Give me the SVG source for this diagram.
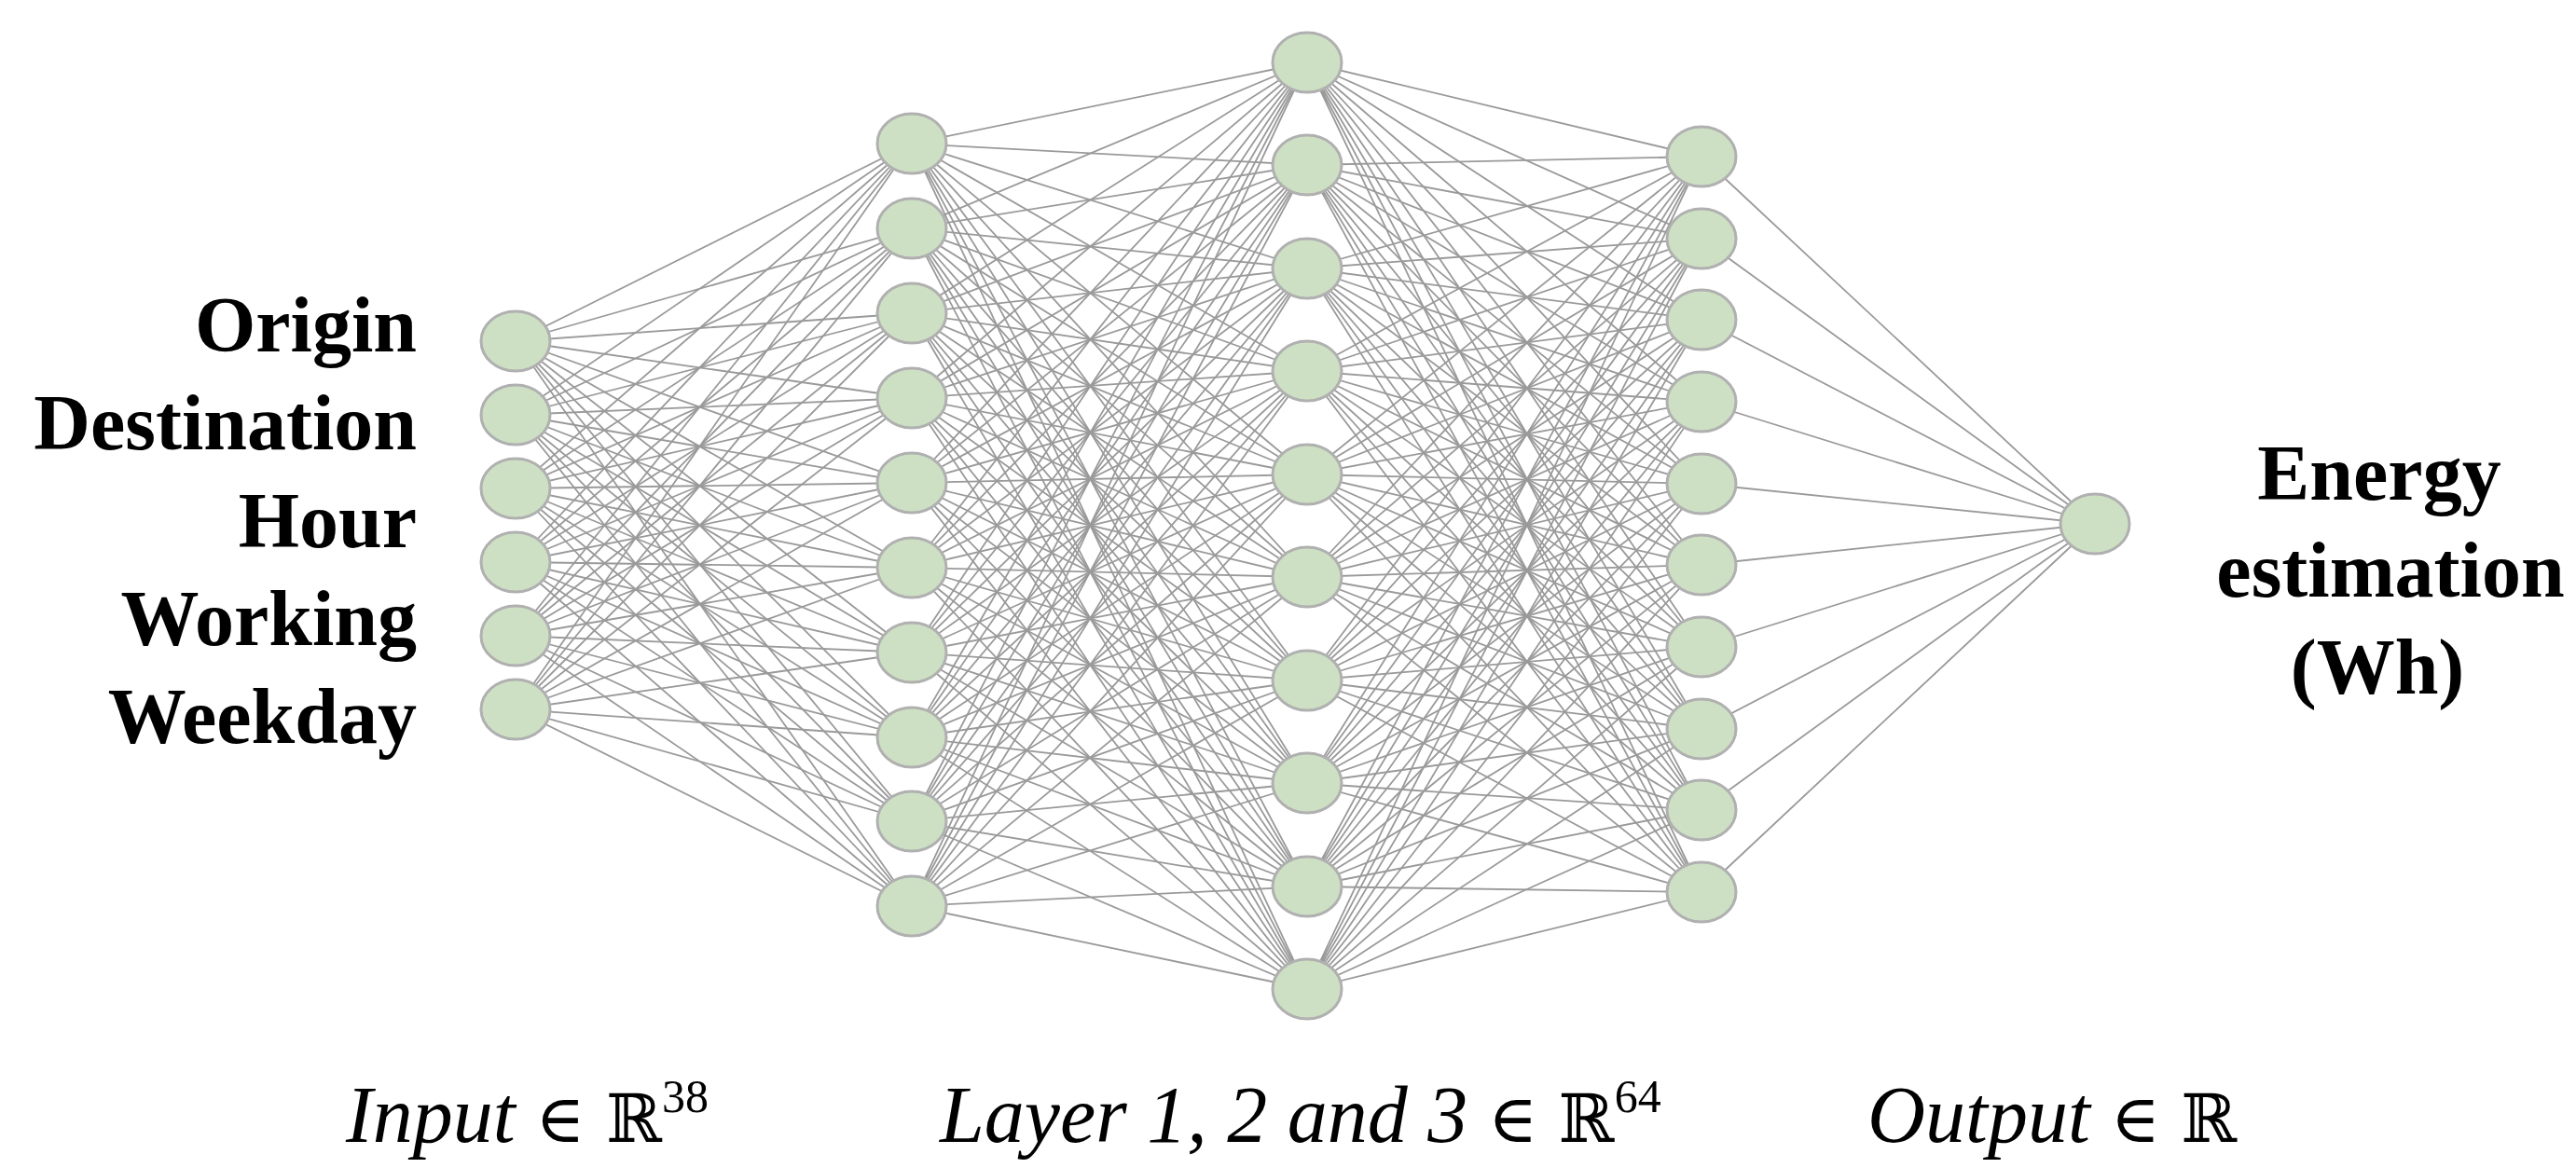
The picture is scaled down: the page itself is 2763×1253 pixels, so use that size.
<svg xmlns="http://www.w3.org/2000/svg" width="2763" height="1253" viewBox="0 0 2763 1253">
<style>
.e{stroke:#9a9a9a;stroke-width:1.8;fill:none}
.n{fill:#cde0c4;stroke:#b0b0b0;stroke-width:3}
.lbl{font-family:"Liberation Serif",serif;font-weight:bold;font-size:84px;fill:#000}
.ax{font-family:"Liberation Serif",serif;font-style:italic;font-size:86px;fill:#000}
.m{font-family:"DejaVu Serif","Liberation Serif",serif;font-style:normal;font-size:72px}
.sup{font-family:"Liberation Serif",serif;font-style:normal;font-size:50px}
</style>
<rect width="2763" height="1253" fill="#fff"/>
<g id="connectors" class="e">
<path d="M553 366L978 154M553 366L978 245M553 366L978 336M553 366L978 427M553 366L978 518M553 366L978 609M553 366L978 700M553 366L978 791M553 366L978 881M553 366L978 972"/>
<path d="M553 445L978 154M553 445L978 245M553 445L978 336M553 445L978 427M553 445L978 518M553 445L978 609M553 445L978 700M553 445L978 791M553 445L978 881M553 445L978 972"/>
<path d="M553 524L978 154M553 524L978 245M553 524L978 336M553 524L978 427M553 524L978 518M553 524L978 609M553 524L978 700M553 524L978 791M553 524L978 881M553 524L978 972"/>
<path d="M553 603L978 154M553 603L978 245M553 603L978 336M553 603L978 427M553 603L978 518M553 603L978 609M553 603L978 700M553 603L978 791M553 603L978 881M553 603L978 972"/>
<path d="M553 682L978 154M553 682L978 245M553 682L978 336M553 682L978 427M553 682L978 518M553 682L978 609M553 682L978 700M553 682L978 791M553 682L978 881M553 682L978 972"/>
<path d="M553 761L978 154M553 761L978 245M553 761L978 336M553 761L978 427M553 761L978 518M553 761L978 609M553 761L978 700M553 761L978 791M553 761L978 881M553 761L978 972"/>
<path d="M978 154L1402 67M978 154L1402 177M978 154L1402 288M978 154L1402 398M978 154L1402 509M978 154L1402 619M978 154L1402 730M978 154L1402 840M978 154L1402 951M978 154L1402 1061"/>
<path d="M978 245L1402 67M978 245L1402 177M978 245L1402 288M978 245L1402 398M978 245L1402 509M978 245L1402 619M978 245L1402 730M978 245L1402 840M978 245L1402 951M978 245L1402 1061"/>
<path d="M978 336L1402 67M978 336L1402 177M978 336L1402 288M978 336L1402 398M978 336L1402 509M978 336L1402 619M978 336L1402 730M978 336L1402 840M978 336L1402 951M978 336L1402 1061"/>
<path d="M978 427L1402 67M978 427L1402 177M978 427L1402 288M978 427L1402 398M978 427L1402 509M978 427L1402 619M978 427L1402 730M978 427L1402 840M978 427L1402 951M978 427L1402 1061"/>
<path d="M978 518L1402 67M978 518L1402 177M978 518L1402 288M978 518L1402 398M978 518L1402 509M978 518L1402 619M978 518L1402 730M978 518L1402 840M978 518L1402 951M978 518L1402 1061"/>
<path d="M978 609L1402 67M978 609L1402 177M978 609L1402 288M978 609L1402 398M978 609L1402 509M978 609L1402 619M978 609L1402 730M978 609L1402 840M978 609L1402 951M978 609L1402 1061"/>
<path d="M978 700L1402 67M978 700L1402 177M978 700L1402 288M978 700L1402 398M978 700L1402 509M978 700L1402 619M978 700L1402 730M978 700L1402 840M978 700L1402 951M978 700L1402 1061"/>
<path d="M978 791L1402 67M978 791L1402 177M978 791L1402 288M978 791L1402 398M978 791L1402 509M978 791L1402 619M978 791L1402 730M978 791L1402 840M978 791L1402 951M978 791L1402 1061"/>
<path d="M978 881L1402 67M978 881L1402 177M978 881L1402 288M978 881L1402 398M978 881L1402 509M978 881L1402 619M978 881L1402 730M978 881L1402 840M978 881L1402 951M978 881L1402 1061"/>
<path d="M978 972L1402 67M978 972L1402 177M978 972L1402 288M978 972L1402 398M978 972L1402 509M978 972L1402 619M978 972L1402 730M978 972L1402 840M978 972L1402 951M978 972L1402 1061"/>
<path d="M1402 67L1825 168M1402 67L1825 256M1402 67L1825 343M1402 67L1825 431M1402 67L1825 519M1402 67L1825 606M1402 67L1825 694M1402 67L1825 782M1402 67L1825 869M1402 67L1825 957"/>
<path d="M1402 177L1825 168M1402 177L1825 256M1402 177L1825 343M1402 177L1825 431M1402 177L1825 519M1402 177L1825 606M1402 177L1825 694M1402 177L1825 782M1402 177L1825 869M1402 177L1825 957"/>
<path d="M1402 288L1825 168M1402 288L1825 256M1402 288L1825 343M1402 288L1825 431M1402 288L1825 519M1402 288L1825 606M1402 288L1825 694M1402 288L1825 782M1402 288L1825 869M1402 288L1825 957"/>
<path d="M1402 398L1825 168M1402 398L1825 256M1402 398L1825 343M1402 398L1825 431M1402 398L1825 519M1402 398L1825 606M1402 398L1825 694M1402 398L1825 782M1402 398L1825 869M1402 398L1825 957"/>
<path d="M1402 509L1825 168M1402 509L1825 256M1402 509L1825 343M1402 509L1825 431M1402 509L1825 519M1402 509L1825 606M1402 509L1825 694M1402 509L1825 782M1402 509L1825 869M1402 509L1825 957"/>
<path d="M1402 619L1825 168M1402 619L1825 256M1402 619L1825 343M1402 619L1825 431M1402 619L1825 519M1402 619L1825 606M1402 619L1825 694M1402 619L1825 782M1402 619L1825 869M1402 619L1825 957"/>
<path d="M1402 730L1825 168M1402 730L1825 256M1402 730L1825 343M1402 730L1825 431M1402 730L1825 519M1402 730L1825 606M1402 730L1825 694M1402 730L1825 782M1402 730L1825 869M1402 730L1825 957"/>
<path d="M1402 840L1825 168M1402 840L1825 256M1402 840L1825 343M1402 840L1825 431M1402 840L1825 519M1402 840L1825 606M1402 840L1825 694M1402 840L1825 782M1402 840L1825 869M1402 840L1825 957"/>
<path d="M1402 951L1825 168M1402 951L1825 256M1402 951L1825 343M1402 951L1825 431M1402 951L1825 519M1402 951L1825 606M1402 951L1825 694M1402 951L1825 782M1402 951L1825 869M1402 951L1825 957"/>
<path d="M1402 1061L1825 168M1402 1061L1825 256M1402 1061L1825 343M1402 1061L1825 431M1402 1061L1825 519M1402 1061L1825 606M1402 1061L1825 694M1402 1061L1825 782M1402 1061L1825 869M1402 1061L1825 957"/>
<path d="M1825 168L2247 562M1825 256L2247 562M1825 343L2247 562M1825 431L2247 562M1825 519L2247 562M1825 606L2247 562M1825 694L2247 562M1825 782L2247 562M1825 869L2247 562M1825 957L2247 562"/>
</g>
<g id="input-layer">
<ellipse class="n" cx="553" cy="366" rx="37" ry="32"/><ellipse class="n" cx="553" cy="445" rx="37" ry="32"/><ellipse class="n" cx="553" cy="524" rx="37" ry="32"/><ellipse class="n" cx="553" cy="603" rx="37" ry="32"/><ellipse class="n" cx="553" cy="682" rx="37" ry="32"/><ellipse class="n" cx="553" cy="761" rx="37" ry="32"/>
</g>
<g id="layer1">
<ellipse class="n" cx="978" cy="154" rx="37" ry="32"/><ellipse class="n" cx="978" cy="245" rx="37" ry="32"/><ellipse class="n" cx="978" cy="336" rx="37" ry="32"/><ellipse class="n" cx="978" cy="427" rx="37" ry="32"/><ellipse class="n" cx="978" cy="518" rx="37" ry="32"/><ellipse class="n" cx="978" cy="609" rx="37" ry="32"/><ellipse class="n" cx="978" cy="700" rx="37" ry="32"/><ellipse class="n" cx="978" cy="791" rx="37" ry="32"/><ellipse class="n" cx="978" cy="881" rx="37" ry="32"/><ellipse class="n" cx="978" cy="972" rx="37" ry="32"/>
</g>
<g id="layer2">
<ellipse class="n" cx="1402" cy="67" rx="37" ry="32"/><ellipse class="n" cx="1402" cy="177" rx="37" ry="32"/><ellipse class="n" cx="1402" cy="288" rx="37" ry="32"/><ellipse class="n" cx="1402" cy="398" rx="37" ry="32"/><ellipse class="n" cx="1402" cy="509" rx="37" ry="32"/><ellipse class="n" cx="1402" cy="619" rx="37" ry="32"/><ellipse class="n" cx="1402" cy="730" rx="37" ry="32"/><ellipse class="n" cx="1402" cy="840" rx="37" ry="32"/><ellipse class="n" cx="1402" cy="951" rx="37" ry="32"/><ellipse class="n" cx="1402" cy="1061" rx="37" ry="32"/>
</g>
<g id="layer3">
<ellipse class="n" cx="1825" cy="168" rx="37" ry="32"/><ellipse class="n" cx="1825" cy="256" rx="37" ry="32"/><ellipse class="n" cx="1825" cy="343" rx="37" ry="32"/><ellipse class="n" cx="1825" cy="431" rx="37" ry="32"/><ellipse class="n" cx="1825" cy="519" rx="37" ry="32"/><ellipse class="n" cx="1825" cy="606" rx="37" ry="32"/><ellipse class="n" cx="1825" cy="694" rx="37" ry="32"/><ellipse class="n" cx="1825" cy="782" rx="37" ry="32"/><ellipse class="n" cx="1825" cy="869" rx="37" ry="32"/><ellipse class="n" cx="1825" cy="957" rx="37" ry="32"/>
</g>
<g id="output-node">
<ellipse class="n" cx="2247" cy="562" rx="37" ry="32"/>
</g>
<g id="input-labels" class="lbl" text-anchor="end">
<text x="447" y="377">Origin</text>
<text x="447" y="482">Destination</text>
<text x="447" y="587">Hour</text>
<text x="447" y="692">Working</text>
<text x="447" y="797">Weekday</text>
</g>
<g id="output-label" class="lbl" text-anchor="middle">
<text x="2552" y="536">Energy</text>
<text x="2564" y="640">estimation</text>
<text x="2550" y="744">(Wh)</text>
</g>
<g id="axis-labels" class="ax">
<text x="371" y="1225">Input <tspan class="m">∈ ℝ</tspan><tspan class="sup" dy="-32">38</tspan></text>
<text x="1008" y="1225">Layer 1, 2 and 3 <tspan class="m">∈ ℝ</tspan><tspan class="sup" dy="-32">64</tspan></text>
<text x="2003" y="1225">Output <tspan class="m">∈ ℝ</tspan></text>
</g>
</svg>
